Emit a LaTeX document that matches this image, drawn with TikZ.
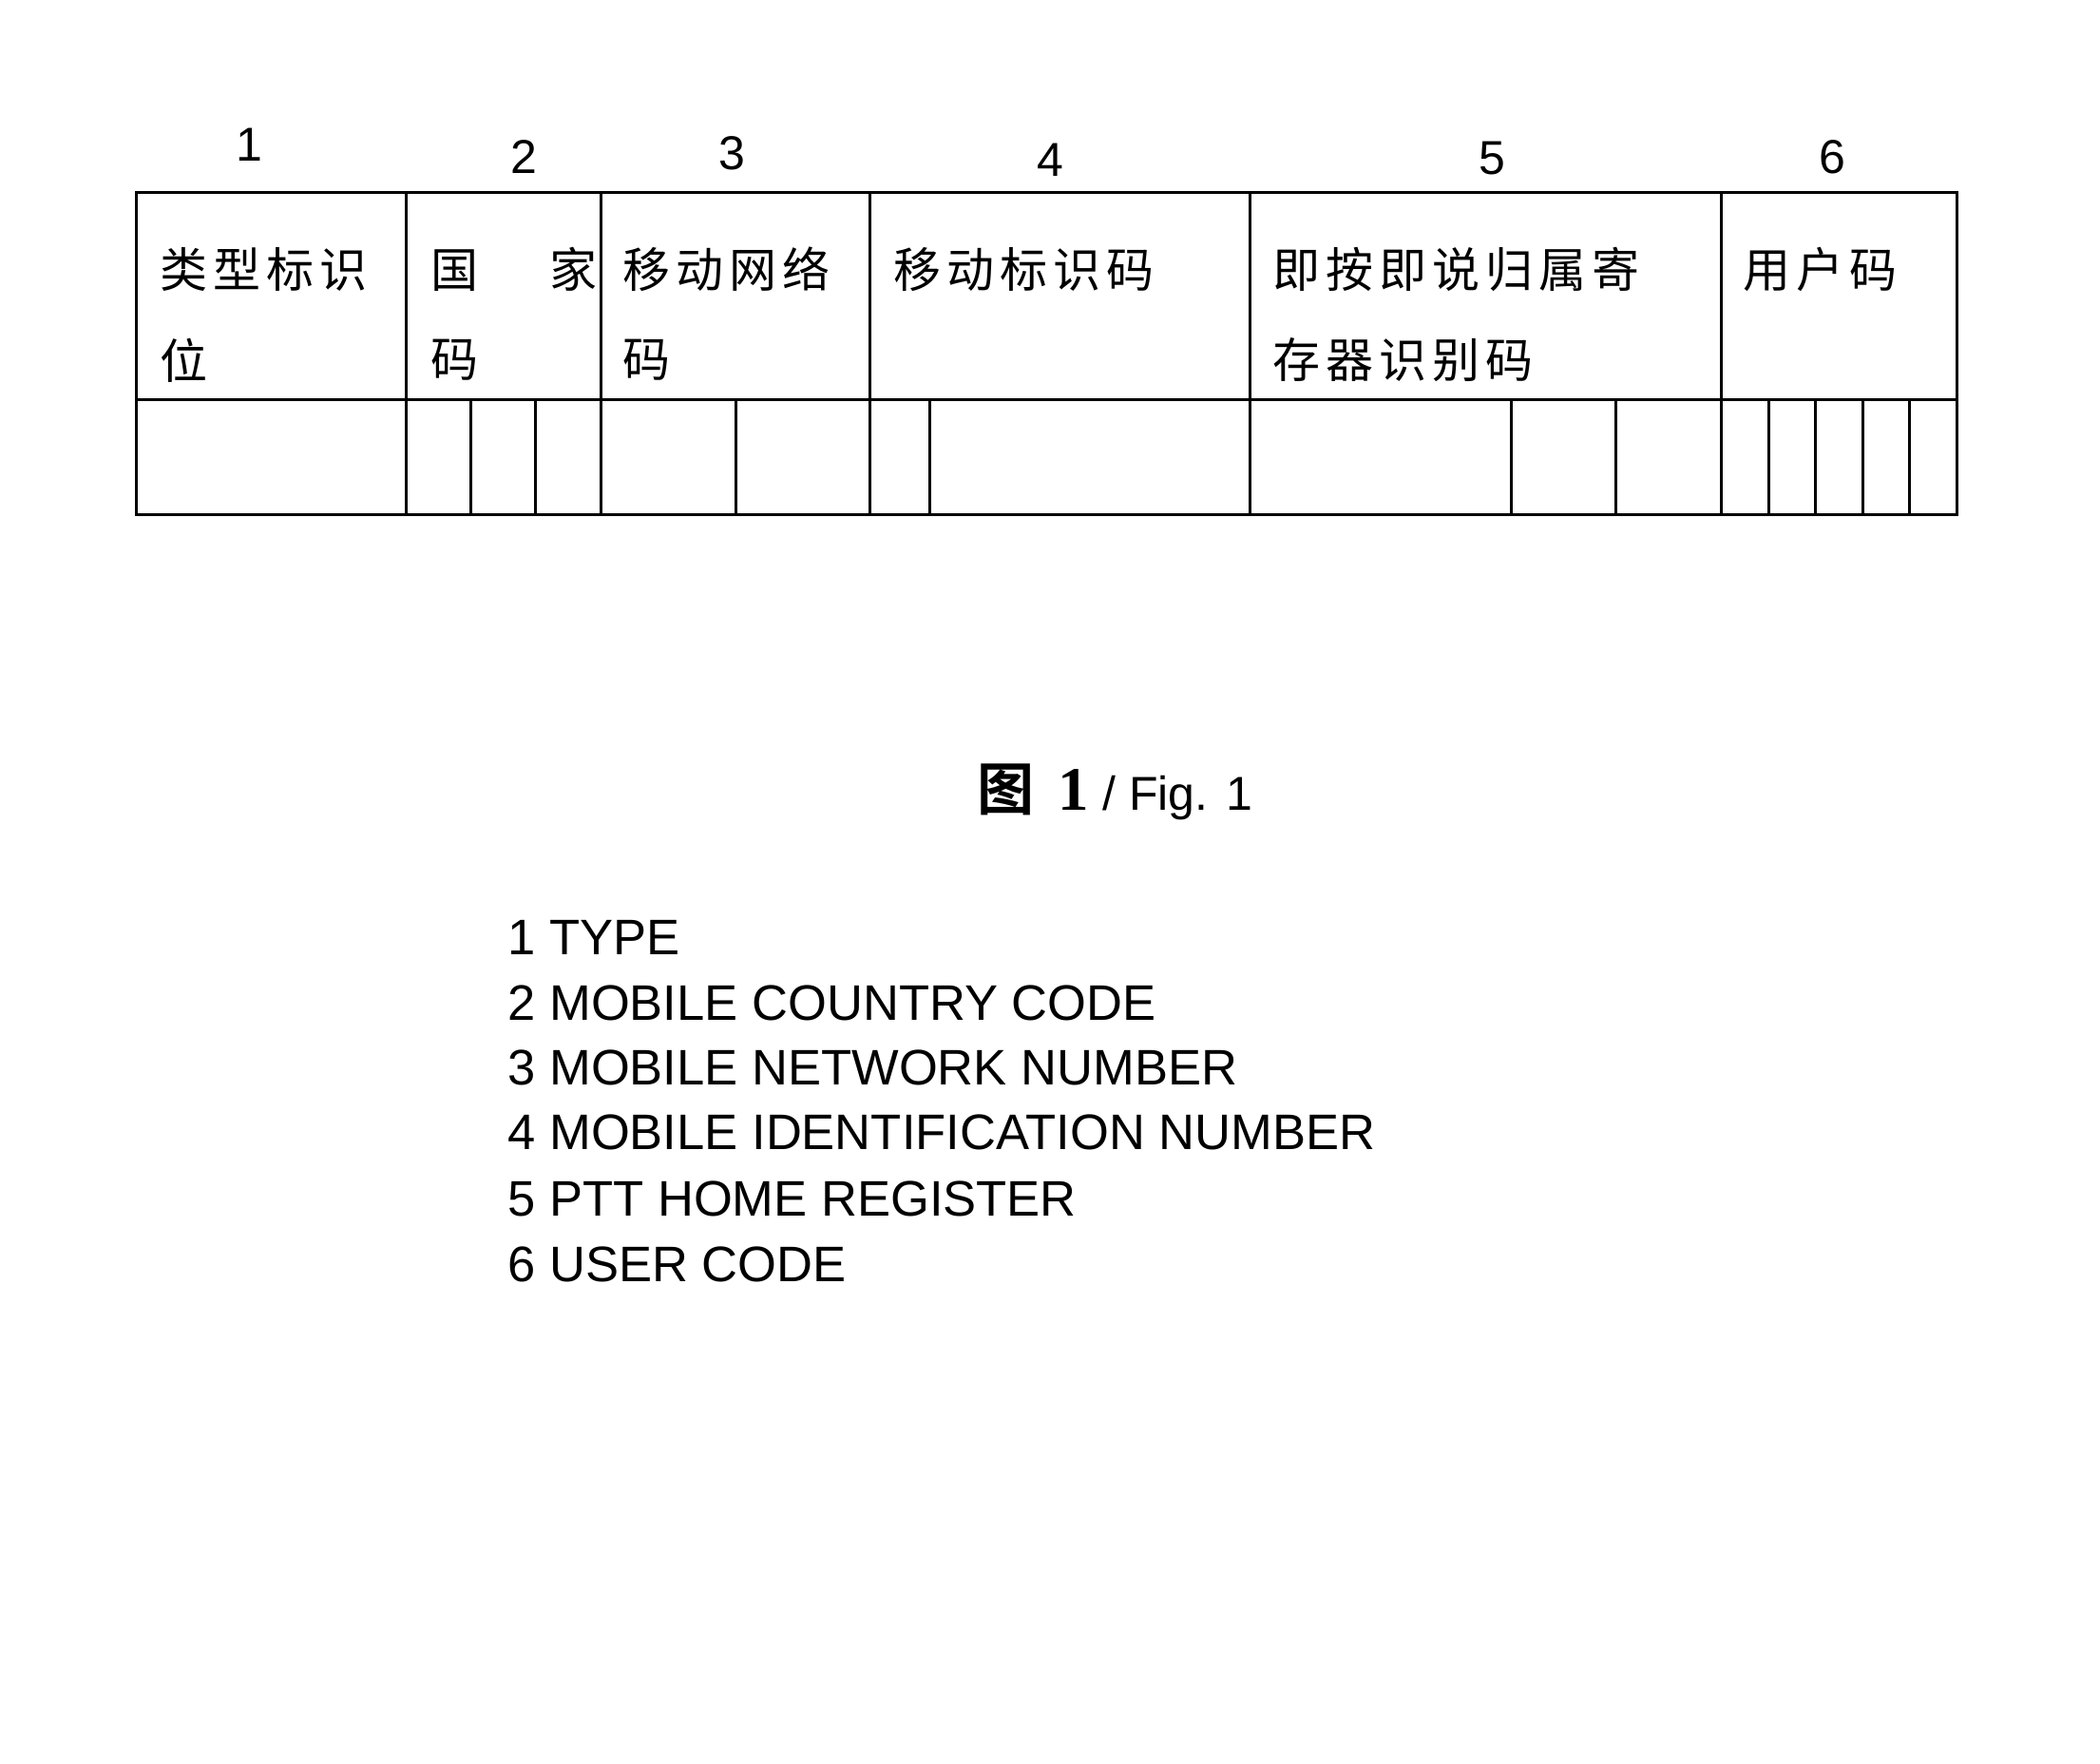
\documentclass[tikz,border=0pt]{standalone}
\usepackage{fontspec}
\setmainfont{Liberation Sans}
\newfontfamily\cjk[LetterSpace=12]{Noto Sans CJK SC}
\newfontfamily\cjkb{Noto Sans CJK SC Bold}
\newfontfamily\serifb{Liberation Serif}
\begin{document}
\begin{tikzpicture}[x=0.02cm,y=-0.02cm,
  grid/.style={line width=1.2pt,black},
  cn/.style={anchor=west,inner sep=0pt,font=\cjk\fontsize{20}{24}\selectfont},
  num/.style={inner sep=0pt,font=\fontsize{20}{24}\selectfont},
  leg/.style={anchor=west,inner sep=0pt,font=\fontsize{21}{25}\selectfont}]
\useasboundingbox[fill=white] (0,0) rectangle (1552,1303);
\draw[grid] (101,142) rectangle (1446,380);
\draw[grid] (101,295) -- (1446,295);
\foreach \x in {300,444,643,924,1272} \draw[grid] (\x,142) -- (\x,380);
\foreach \x in {348,396,544,687,1117,1194,1307,1342,1377,1411} \draw[grid] (\x,295) -- (\x,380);
\node[num] (n1) at (184,107) {1};
\node[num] (n2) at (387,116) {2};
\node[num] (n3) at (541,113) {3};
\node[num] (n4) at (776,118) {4};
\node[num] (n5) at (1103,117) {5};
\node[num] (n6) at (1354,116) {6};
\node[cn] (a1) at (118,199) {类型标识};
\node[cn] (a2) at (118,266) {位};
\node[cn] (b1) at (318,199) {国\hspace{1.05cm}家};
\node[cn] (b2) at (318,266) {码};
\node[cn] (c1) at (460,199) {移动网络};
\node[cn] (c2) at (460,266) {码};
\node[cn] (d1) at (660,199) {移动标识码};
\node[cn] (e1) at (940,199) {即按即说归属寄};
\node[cn] (e2) at (940,266) {存器识别码};
\node[cn] (f1) at (1288,199) {用户码};
\node[anchor=west,inner sep=0pt] (cap) at (722,585) {{\cjkb\fontsize{24}{28}\selectfont 图}\hspace{0.35cm}{\serifb\bfseries\fontsize{26}{30}\selectfont 1}\hspace{0.2cm}{\fontsize{20}{24}\selectfont / Fig. 1}};
\node[leg] (l1) at (375,693) {1 TYPE};
\node[leg] (l2) at (375,741) {2 MOBILE COUNTRY CODE};
\node[leg] (l3) at (375,789) {3 MOBILE NETWORK NUMBER};
\node[leg] (l4) at (375,837) {4 MOBILE IDENTIFICATION NUMBER};
\node[leg] (l5) at (375,886) {5 PTT HOME REGISTER};
\node[leg] (l6) at (375,934) {6 USER CODE};
\end{tikzpicture}
\end{document}
